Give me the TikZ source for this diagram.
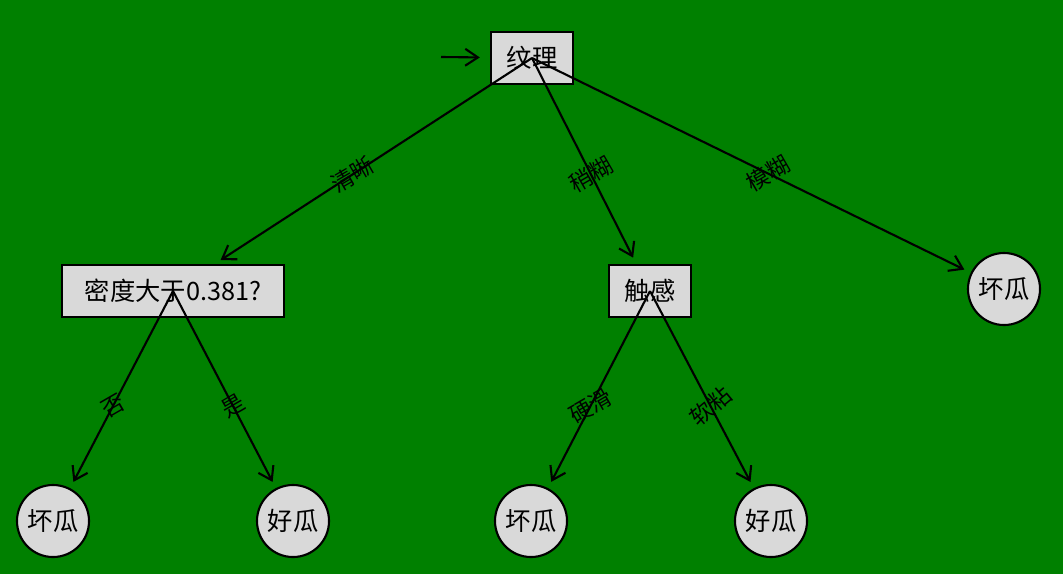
\documentclass[tikz,border=0pt]{standalone}
\usepackage{fontspec}
\setmainfont{Noto Sans CJK SC}
\usetikzlibrary{arrows.meta,calc,positioning}
\definecolor{bggreen}{RGB}{0,128,0}
\definecolor{boxgray}{RGB}{217,217,217}

\tikzset{
  decision/.style={rectangle, draw, fill=boxgray, line width=1.5pt, minimum height=1.3cm, inner xsep=0.4cm, font=\fontsize{18}{20}\selectfont},
  leaf/.style={circle, draw, fill=boxgray, line width=1.5pt, minimum size=1.8cm, inner sep=0pt, font=\fontsize{18}{20}\selectfont},
  edge/.style={line width=1.5pt, -{Straight Barb[length=9pt,width=12pt]}, shorten >=5pt},
  lbl/.style={font=\fontsize{16}{18}\selectfont, rotate=30, inner sep=0pt}
}

\begin{document}
\begin{tikzpicture}[x=0.025cm, y=-0.025cm]
  \fill[bggreen] (0,0) rectangle (1063,574);
  \useasboundingbox (0,0) rectangle (1063,574);

  % inner nodes
  \node[decision] at (532,58) (root) {纹理};
  \node[decision, minimum width=5.55cm] at (173,291) (dens) {密度大于0.381?};
  \node[decision] at (650,291) (touch) {触感};

  % leaves
  \node[leaf] at (1004,289) (bad1) {坏瓜};
  \node[leaf] at (53,521) (bad2) {坏瓜};
  \node[leaf] at (293,521) (good1) {好瓜};
  \node[leaf] at (531,521) (bad3) {坏瓜};
  \node[leaf] at (771,521) (good2) {好瓜};

  \coordinate (entry) at (441,57);
  \draw[edge, shorten >=7pt] (entry) -- (root);

  \draw[edge] (root.center) -- (dens);
  \draw[edge] (root.center) -- (touch);
  \draw[edge] (root.center) -- (bad1);
  \draw[edge] (dens.center) -- (bad2);
  \draw[edge] (dens.center) -- (good1);
  \draw[edge] (touch.center) -- (bad3);
  \draw[edge] (touch.center) -- (good2);

  % edge labels
  \node[lbl] (l1) at ($(root)!0.5!(dens)$) {清晰};
  \node[lbl] (l2) at ($(root)!0.5!(touch)$) {稍糊};
  \node[lbl] (l3) at ($(root)!0.5!(bad1)$) {模糊};
  \node[lbl] (l4) at ($(dens)!0.5!(bad2)$) {否};
  \node[lbl] (l5) at ($(dens)!0.5!(good1)$) {是};
  \node[lbl] (l6) at ($(touch)!0.5!(bad3)$) {硬滑};
  \node[lbl, rotate=10] (l7) at ($(touch)!0.5!(good2)$) {软粘};
\end{tikzpicture}
\end{document}
